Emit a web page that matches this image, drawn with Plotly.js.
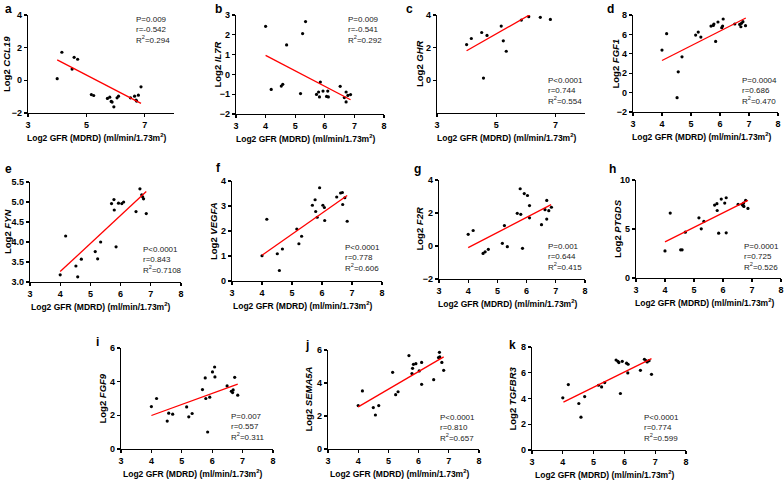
<!DOCTYPE html>
<html>
<head>
<meta charset="utf-8">
<script src="https://cdn.plot.ly/plotly-3.0.1.min.js"></script>
<style>
  html, body { margin: 0; padding: 0; background: #fff; }
  #chart { width: 784px; height: 480px; }
</style>
</head>
<body>
<div id="chart"></div>
<script>
// values: x = Log2 GFR, y = Log2 expression
const ccl19X = [4.0, 4.16, 4.51, 4.58, 4.70, 5.17, 5.25, 5.72, 5.80, 5.85, 5.88, 5.94, 6.05, 6.10, 6.51, 6.65, 6.70, 6.72, 6.78, 6.87];
const ccl19Y = [0.1, 1.72, 0.69, 1.41, 1.29, -0.87, -0.93, -1.11, -1.03, -1.29, -1.33, -1.62, -1.07, -0.97, -1.07, -0.97, -1.21, -1.27, -0.91, -0.40];
const il7rX = [4.0, 4.19, 4.53, 4.58, 4.71, 5.18, 5.25, 5.35, 5.72, 5.79, 5.82, 5.85, 5.94, 6.06, 6.10, 6.12, 6.52, 6.66, 6.72, 6.72, 6.78, 6.87];
const il7rY = [2.43, -0.76, -0.59, -0.50, 1.49, -0.97, 2.06, 2.67, -1.01, -0.89, -1.14, -0.39, -0.84, -1.11, -0.84, -1.14, -0.60, -1.17, -0.89, -1.39, -1.06, -1.02];
const ghrX = [4.0, 4.16, 4.51, 4.57, 4.69, 5.17, 5.24, 5.34, 5.85, 6.10, 6.49, 6.83];
const ghrY = [2.19, 2.56, 2.93, 0.14, 2.75, 3.32, 2.42, 1.78, 3.69, 3.90, 3.86, 3.73];
const fgf1X = [4.0, 4.16, 4.56, 4.52, 4.69, 5.16, 5.25, 5.34, 5.69, 5.77, 5.79, 5.85, 5.93, 6.06, 6.09, 6.11, 6.51, 6.68, 6.72, 6.74, 6.79, 6.88];
const fgf1Y = [4.38, 6.07, 2.14, -0.52, 3.69, 5.93, 6.24, 5.72, 6.86, 6.93, 7.07, 5.28, 7.28, 6.69, 6.86, 7.59, 7.07, 7.03, 6.79, 7.14, 7.31, 6.90];
const fynX = [4.0, 4.18, 4.52, 4.58, 4.70, 5.16, 5.24, 5.34, 5.70, 5.78, 5.79, 5.85, 5.93, 6.04, 6.10, 6.51, 6.64, 6.70, 6.73, 6.76, 6.85];
const fynY = [3.18, 4.15, 3.40, 3.13, 3.57, 3.76, 3.58, 4.00, 4.96, 5.06, 4.80, 3.88, 4.97, 4.96, 5.00, 4.76, 5.33, 5.18, 5.13, 5.08, 4.71];
const vegfaX = [4.0, 4.16, 4.51, 4.58, 4.68, 5.16, 5.23, 5.32, 5.68, 5.77, 5.79, 5.84, 5.92, 6.03, 6.08, 6.09, 6.49, 6.62, 6.68, 6.69, 6.76, 6.84];
const vegfaY = [1.01, 2.47, 1.09, 0.42, 1.28, 2.08, 1.49, 1.79, 3.03, 3.25, 2.78, 2.55, 3.73, 3.03, 2.94, 2.42, 3.36, 3.52, 3.54, 3.06, 3.33, 2.39];
const f2rX = [4.0, 4.17, 4.51, 4.58, 4.69, 5.17, 5.24, 5.34, 5.68, 5.78, 5.80, 5.86, 5.92, 6.03, 6.10, 6.10, 6.51, 6.63, 6.69, 6.69, 6.76, 6.85];
const f2rY = [0.71, 0.94, -0.45, -0.35, -0.20, 0.16, 1.24, -0.04, 1.98, 3.47, 1.92, -0.14, 3.18, 3.06, 2.45, 1.71, 1.29, 2.20, 2.76, 1.63, 2.14, 2.35];
const ptgdsX = [4.0, 4.18, 4.54, 4.59, 4.70, 5.17, 5.25, 5.34, 5.71, 5.79, 5.80, 5.85, 5.94, 6.06, 6.11, 6.11, 6.52, 6.66, 6.69, 6.71, 6.72, 6.78, 6.86];
const ptgdsY = [2.76, 6.62, 2.87, 2.87, 4.68, 6.14, 5.02, 5.77, 7.44, 7.58, 6.89, 4.57, 8.05, 7.65, 8.19, 4.61, 7.51, 7.51, 7.41, 7.65, 7.30, 7.92, 7.10];
const fgf9X = [4.0, 4.17, 4.52, 4.57, 4.70, 5.16, 5.23, 5.34, 5.68, 5.77, 5.79, 5.85, 5.92, 6.01, 6.08, 6.09, 6.49, 6.63, 6.67, 6.69, 6.74, 6.84];
const fgf9Y = [2.52, 3.00, 1.66, 2.13, 2.07, 2.50, 1.91, 2.11, 3.53, 4.22, 3.00, 1.01, 3.08, 4.58, 4.87, 4.28, 3.75, 3.43, 3.35, 3.51, 4.26, 3.20];
const sema5aX = [4.0, 4.14, 4.50, 4.57, 4.68, 5.14, 5.24, 5.32, 5.68, 5.78, 5.80, 5.83, 5.91, 6.02, 6.10, 6.10, 6.50, 6.66, 6.69, 6.70, 6.77, 6.83];
const sema5aY = [2.63, 3.52, 2.51, 2.06, 2.63, 4.65, 3.29, 3.47, 5.66, 4.57, 4.89, 5.13, 5.17, 4.73, 5.25, 3.92, 4.20, 5.54, 5.86, 5.58, 5.25, 4.77];
const tgfbr3X = [4.0, 4.18, 4.52, 4.59, 4.71, 5.16, 5.26, 5.36, 5.73, 5.79, 5.82, 5.87, 5.93, 6.07, 6.12, 6.11, 6.52, 6.65, 6.70, 6.74, 6.80, 6.88];
const tgfbr3Y = [4.05, 5.08, 3.61, 2.55, 4.15, 5.03, 4.90, 5.24, 6.99, 6.89, 6.79, 4.39, 6.89, 6.74, 6.66, 5.99, 6.19, 7.05, 6.94, 6.84, 6.94, 5.88];

// regression line ends as drawn
const fitX = {
  a: [4.0, 6.87], b: [4.0, 6.87], c: [4.0, 6.14], d: [4.0, 6.89],
  e: [4.0, 6.85], f: [4.0, 6.84], g: [4.0, 6.84], h: [4.0, 6.86],
  i: [4.0, 6.84], j: [4.0, 6.83], k: [4.02, 6.88]
};
const fitY = {
  a: [1.25, -1.41], b: [0.96, -1.28], c: [1.81, 4.02], d: [3.31, 7.69],
  e: [3.26, 5.26], f: [1.03, 3.42], g: [-0.10, 2.51], h: [3.69, 7.92],
  i: [1.99, 3.85], j: [2.55, 5.58], k: [3.72, 7.10]
};

const genes = ["CCL19", "IL7R", "GHR", "FGF1", "FYN", "VEGFA", "F2R", "PTGDS", "FGF9", "SEMA5A", "TGFBR3"];
const pVals = ["P=0.009", "P=0.009", "P<0.0001", "P=0.0004", "P<0.0001", "P<0.0001", "P=0.001", "P=0.0001", "P=0.007", "P<0.0001", "P<0.0001"];
const rVals = ["-0.542", "-0.541", "0.744", "0.686", "0.843", "0.778", "0.644", "0.725", "0.557", "0.810", "0.774"];
const r2Vals = ["0.294", "0.292", "0.554", "0.470", "0.7108", "0.606", "0.415", "0.526", "0.311", "0.657", "0.599"];

const xTitle = "Log2 GFR (MDRD) (ml/min/1.73m<sup>2</sup>)";

// panel frames in pixels: [left, right], [top, bottom]
const panels = [
  { id: "a", x: ccl19X, y: ccl19Y, px: [28, 174], py: [15, 113], yr: [-2, 4], ytv: [-2, 0, 2, 4], xtv: [3, 5, 7], st: [134, 13], ytx: 7, lt: [3, 9] },
  { id: "b", x: il7rX, y: il7rY, px: [236, 384], py: [15, 114], yr: [-2, 3], ytv: [-2, -1, 0, 1, 2, 3], xtv: [3, 4, 5, 6, 7, 8], st: [346, 13], ytx: 217, lt: [213, 9] },
  { id: "c", x: ghrX, y: ghrY, px: [437, 585], py: [15, 113], yr: [-2, 4], ytv: [0, 2, 4], xtv: [3, 5, 7], st: [546, 74], ytx: 420, lt: [404, 9] },
  { id: "d", x: fgf1X, y: fgf1Y, px: [633, 778], py: [15, 112], yr: [-2, 8], ytv: [-2, 0, 2, 4, 6, 8], xtv: [3, 4, 5, 6, 7, 8], st: [740, 74], ytx: 615, lt: [605, 9] },
  { id: "e", x: fynX, y: fynY, px: [30, 181], py: [182, 282], yr: [3, 5.5], ytv: [3, 3.5, 4, 4.5, 5, 5.5], xtv: [3, 4, 5, 6, 7, 8], st: [141, 243], ytx: 7, fmt: ".1f", lt: [3, 169] },
  { id: "f", x: vegfaX, y: vegfaY, px: [232, 382], py: [181, 281], yr: [0, 4], ytv: [0, 1, 2, 3, 4], xtv: [3, 4, 5, 6, 7, 8], st: [343, 241], ytx: 214, lt: [214, 168] },
  { id: "g", x: f2rX, y: f2rY, px: [439, 585], py: [180, 279], yr: [-2, 4], ytv: [-2, 0, 2, 4], xtv: [3, 4, 5, 6, 7, 8], st: [546, 240], ytx: 419, lt: [412, 169] },
  { id: "h", x: ptgdsX, y: ptgdsY, px: [636, 781], py: [180, 278], yr: [0, 10], ytv: [0, 5, 10], xtv: [3, 4, 5, 6, 7, 8], st: [742, 240], ytx: 617, lt: [607, 169] },
  { id: "i", x: fgf9X, y: fgf9Y, px: [121, 273], py: [348, 449], yr: [0, 6], ytv: [0, 2, 4, 6], xtv: [3, 4, 5, 6, 7, 8], st: [229, 410], ytx: 102, lt: [94, 342] },
  { id: "j", x: sema5aX, y: sema5aY, px: [328, 479], py: [350, 449], yr: [0, 6], ytv: [0, 2, 4, 6], xtv: [3, 4, 5, 6, 7, 8], st: [438, 411], ytx: 308, lt: [303, 345] },
  { id: "k", x: tgfbr3X, y: tgfbr3Y, px: [532, 686], py: [347, 450], yr: [0, 8], ytv: [0, 2, 4, 6, 8], xtv: [3, 4, 5, 6, 7, 8], st: [642, 411], ytx: 512, lt: [507, 345] }
];

const W = 784, H = 480;
const font = "Arial, 'Liberation Sans', sans-serif";
const traces = [];
const annotations = [];
const layout = {
  width: W, height: H,
  margin: { l: 0, r: 0, t: 0, b: 0 },
  paper_bgcolor: "#fff", plot_bgcolor: "rgba(0,0,0,0)",
  showlegend: false,
  font: { family: font, color: "#000" }
};

panels.forEach((p, n) => {
  const k = n === 0 ? "" : String(n + 1);
  const xa = "x" + k, ya = "y" + k;

  traces.push({
    x: p.x, y: p.y, xaxis: xa, yaxis: ya,
    type: "scatter", mode: "markers",
    marker: { color: "#000", size: 3.2 },
    cliponaxis: false, hoverinfo: "skip"
  });
  traces.push({
    x: fitX[p.id], y: fitY[p.id], xaxis: xa, yaxis: ya,
    type: "scatter", mode: "lines",
    line: { color: "#ff0000", width: 1.3 }, hoverinfo: "skip"
  });

  const axisStyle = {
    showgrid: false, zeroline: false, showline: true,
    linecolor: "#000", linewidth: 1.3,
    ticks: "outside", ticklen: 3, tickwidth: 1.2, tickcolor: "#000",
    tickfont: { family: font, size: 9, color: "#000", weight: "bold" },
    automargin: false, fixedrange: true
  };
  layout["xaxis" + k] = Object.assign({}, axisStyle, {
    domain: [p.px[0] / W, p.px[1] / W],
    range: [3, 8], tickvals: p.xtv, anchor: ya
  });
  layout["yaxis" + k] = Object.assign({}, axisStyle, {
    domain: [1 - p.py[1] / H, 1 - p.py[0] / H],
    range: p.yr, tickvals: p.ytv, anchor: xa,
    tickformat: p.fmt || ""
  });

  // panel letter
  annotations.push({
    text: "<b>" + p.id + "</b>", xref: "paper", yref: "paper",
    x: p.lt[0] / W, y: 1 - p.lt[1] / H,
    xanchor: "left", yanchor: "middle", showarrow: false,
    font: { family: font, size: 12, color: "#000" }
  });
  // y title
  annotations.push({
    text: "<b>Log2 <i>" + genes[n] + "</i></b>", xref: "paper", yref: "paper",
    x: p.ytx / W, y: 1 - (p.py[0] + p.py[1]) / 2 / H,
    xanchor: "center", yanchor: "middle", textangle: -90, showarrow: false,
    font: { family: font, size: 9.5, color: "#000" }
  });
  // x title
  annotations.push({
    text: "<b>" + xTitle + "</b>", xref: "paper", yref: "paper",
    x: (p.px[0] + p.px[1]) / 2 / W - 4 / W, y: 1 - (p.py[1] + 24) / H,
    xanchor: "center", yanchor: "middle", showarrow: false,
    font: { family: font, size: 8.5, color: "#000" }
  });
  // stats
  annotations.push({
    text: pVals[n] + "<br>r=" + rVals[n] + "<br>R<sup>2</sup>=" + r2Vals[n],
    xref: "paper", yref: "paper",
    x: p.st[0] / W, y: 1 - p.st[1] / H,
    xanchor: "left", yanchor: "top", align: "left", showarrow: false,
    font: { family: font, size: 8, color: "#222" }
  });
});

layout.annotations = annotations;
Plotly.newPlot("chart", traces, layout, { staticPlot: true, displayModeBar: false });
</script>
</body>
</html>
